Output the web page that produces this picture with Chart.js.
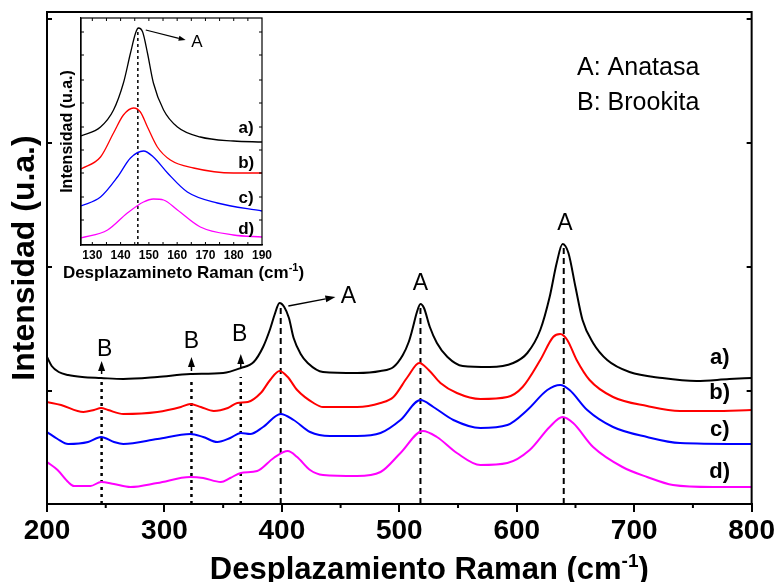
<!DOCTYPE html>
<html>
<head>
<meta charset="utf-8">
<script src="https://cdn.jsdelivr.net/npm/chart.js@4.4.0/dist/chart.umd.min.js"></script>
<style>
  body { margin: 0; background: #fff; }
  #wrap { position: relative; width: 777px; height: 582px; }
  #mainChart { position: absolute; left: 0; top: 0; }
  #insetChart { position: absolute; left: 56px; top: 14px; }
</style>
</head>
<body>
<div id="wrap">
  <canvas id="mainChart" width="777" height="582"></canvas>
  <canvas id="insetChart" width="250" height="270"></canvas>
</div>
<script>
// main spectra: Raman shift (cm-1) and intensity (a.u., stacked offsets)
var shiftA = [200,204,210,218,230,246,265,294,322,350,365,376,384,390,394,398,402,406,410,416,422,435,464,484,495,503,508,511,515,518,521,526,532,541,554,577,597,609,620,628,634,639,644,650,656,665,677,696,724,753,781,800];
var intA   = [147,138,132,129,127,126,125,127,130,131,136,142,157,175,190,201,197,186,166,150,141,132,131,133,137,149,162,174,192,200,196,177,161,147,138,137,141,151,174,207,241,260,251,217,184,161,144,132,126,123,125,126];

var shiftB = [200,212,231,240,246,252,265,294,314,322,331,342,354,362,371,382,390,398,405,413,427,435,464,484,495,507,517,525,535,549,569,592,605,620,631,637,643,651,662,682,711,739,767,800];
var intB   = [102,99,92,94,96,94,90,92,97,100,97,93,96,101,102,111,124,133,127,114,101,97,97,101,107,127,141,134,121,111,105,107,117,144,167,170,164,144,124,107,98,93,93,94];

var shiftC = [200,209,218,235,246,257,265,294,322,333,345,356,365,373,384,399,410,424,441,464,484,501,518,529,546,569,592,609,626,637,645,660,682,711,739,800];
var intC   = [72,65,60,62,67,62,60,65,70,67,62,66,71,70,77,90,84,72,68,68,71,84,104,97,84,76,79,94,114,119,114,94,77,67,61,60];

var shiftD = [200,209,218,223,237,246,257,271,294,322,333,348,356,365,379,393,405,413,424,435,464,484,501,520,532,549,569,592,611,628,639,648,665,690,711,733,767,800];
var intD   = [42,34,22,18,18,22,20,17,21,27,26,22,26,31,33,46,53,47,34,29,28,32,51,73,67,51,39,41,54,77,87,81,57,37,27,19,17,17];

// marker lines
var anatasePeaks = [399, 518, 640];
var anataseTops  = [201, 200, 260];
var brookitePeaks = [246.5, 323, 365];
var brookiteTops  = [124, 124, 127];

// inset spectra (zoom on the 146 cm-1 band)
var insetShiftA = [126,132.9,137.5,141,143.5,145.3,146.3,147.8,149.5,151.6,155.2,160.1,168.2,179.9,190];
var insetIntA   = [109,118,135,162,192,212,217,213,192,162,135,118,108,104,103];
var insetShiftB = [126,132.9,137.5,141,144.6,147,149.5,153,157.6,165.8,179.9,190];
var insetIntB   = [76,88,112,130,137,133,118,98,85,77,72,72];
var insetShiftC = [126,132.9,138.9,143.5,148.1,151.6,156.6,163.6,174.2,190];
var insetIntC   = [39,48,68,87,94,88,72,53,42,34];
var insetShiftD = [126,135.4,142.4,148.1,151.6,155.2,160.1,168.2,179.9,190];
var insetIntD   = [7,15,32,43,46,45,35,18,10,8];
var insetPeak = 146.1, insetPeakTop = 217;
var insetTickLabels = [130, 140, 150, 160, 170, 180, 190];

var FONT = "'Liberation Sans', Arial, sans-serif";
Chart.defaults.font.family = FONT;
Chart.defaults.color = '#000';

function pts(xs, ys) {
    return xs.map(function (v, i) { return { x: v, y: ys[i] }; });
}

function spectrum(xs, ys, color, width) {
    return { data: pts(xs, ys), borderColor: color, borderWidth: width, cubicInterpolationMode: 'monotone', pointRadius: 0 };
}

function marker(v, top, dash, width) {
    return { data: [{ x: v, y: 0 }, { x: v, y: top }], borderColor: '#000', borderWidth: width, borderDash: dash, pointRadius: 0 };
}

// frame, extra ticks, arrows, labels and the x title with superscript
var frameNotes = {
    id: 'frameNotes',
    afterDraw: function (chart, args, o) {
        var ctx = chart.ctx, a = chart.chartArea;
        var xs = chart.scales.x, ys = chart.scales.y;
        ctx.save();
        ctx.strokeStyle = '#000';
        ctx.fillStyle = '#000';
        ctx.lineWidth = o.frameWidth;
        ctx.strokeRect(a.left, a.top, a.right - a.left, a.bottom - a.top);

        ctx.lineWidth = o.tickWidth;
        ctx.beginPath();
        (o.xTicks || []).forEach(function (v) {
            var px = xs.getPixelForValue(v);
            ctx.moveTo(px, a.bottom); ctx.lineTo(px, a.bottom + o.xTickLen);
            if (o.topTicks) { ctx.moveTo(px, a.top); ctx.lineTo(px, a.top - o.xTickLen); }
        });
        (o.yTicks || []).forEach(function (v) {
            var py = ys.getPixelForValue(v);
            ctx.moveTo(a.left, py); ctx.lineTo(a.left + o.yTickLen, py);
            ctx.moveTo(a.right, py); ctx.lineTo(a.right - o.yTickLen, py);
        });
        ctx.stroke();

        ctx.lineWidth = o.arrowWidth;
        (o.arrows || []).forEach(function (ar) {
            var x1 = xs.getPixelForValue(ar.x1), y1 = ys.getPixelForValue(ar.y1);
            var x2 = xs.getPixelForValue(ar.x2), y2 = ys.getPixelForValue(ar.y2);
            var ang = Math.atan2(y2 - y1, x2 - x1);
            var bx = x2 - o.headLen * Math.cos(ang), by = y2 - o.headLen * Math.sin(ang);
            ctx.beginPath();
            ctx.moveTo(x1, y1); ctx.lineTo(bx, by);
            ctx.stroke();
            ctx.beginPath();
            ctx.moveTo(x2, y2);
            ctx.lineTo(bx + o.headW * Math.sin(ang), by - o.headW * Math.cos(ang));
            ctx.lineTo(bx - o.headW * Math.sin(ang), by + o.headW * Math.cos(ang));
            ctx.closePath();
            ctx.fill();
        });

        ctx.textBaseline = 'middle';
        (o.texts || []).forEach(function (t) {
            ctx.font = t.font;
            ctx.textAlign = t.align || 'center';
            ctx.fillText(t.text, xs.getPixelForValue(t.x), ys.getPixelForValue(t.y));
        });

        var tt = o.xTitle;
        if (tt) {
            ctx.textAlign = 'left';
            ctx.textBaseline = 'alphabetic';
            ctx.font = tt.font;
            var w1 = ctx.measureText(tt.text).width, w3 = ctx.measureText(tt.tail).width;
            ctx.font = tt.supFont;
            var w2 = ctx.measureText(tt.sup).width;
            var x0 = (a.left + a.right) / 2 + tt.dx - (w1 + w2 + w3) / 2;
            ctx.font = tt.font;
            ctx.fillText(tt.text, x0, tt.y);
            ctx.fillText(tt.tail, x0 + w1 + w2, tt.y);
            ctx.font = tt.supFont;
            ctx.fillText(tt.sup, x0 + w1, tt.y - tt.rise);
        }
        ctx.restore();
    }
};

var mainSets = [
    spectrum(shiftA, intA, '#000000', 2),
    spectrum(shiftB, intB, '#ff0000', 2),
    spectrum(shiftC, intC, '#0000ff', 2),
    spectrum(shiftD, intD, '#ff00ff', 2)
];
anatasePeaks.forEach(function (v, i) { mainSets.push(marker(v, anataseTops[i], [6, 4], 2)); });
brookitePeaks.forEach(function (v, i) { mainSets.push(marker(v, brookiteTops[i], [3, 4], 2.5)); });

new Chart(document.getElementById('mainChart'), {
    type: 'line',
    data: { datasets: mainSets },
    options: {
        responsive: false,
        animation: false,
        layout: { padding: { top: 12, right: 25 } },
        plugins: {
            legend: { display: false },
            tooltip: { enabled: false },
            frameNotes: {
                frameWidth: 2,
                tickWidth: 2,
                xTicks: [250, 350, 450, 550, 650, 750],
                xTickLen: 4,
                yTicks: [113, 237, 361, 485],
                yTickLen: 5,
                arrowWidth: 1.5,
                headLen: 10,
                headW: 3.5,
                arrows: [
                    { x1: 405.5, y1: 198, x2: 445.6, y2: 207 },
                    { x1: 246.5, y1: 130, x2: 246.5, y2: 143 },
                    { x1: 323, y1: 133, x2: 323, y2: 147 },
                    { x1: 365, y1: 136, x2: 365, y2: 150 }
                ],
                texts: [
                    { text: 'A', x: 456.6, y: 207, font: '23px ' + FONT },
                    { text: 'A', x: 518, y: 220, font: '23px ' + FONT },
                    { text: 'A', x: 641, y: 280, font: '23px ' + FONT },
                    { text: 'B', x: 249, y: 154, font: '23px ' + FONT },
                    { text: 'B', x: 323, y: 162, font: '23px ' + FONT },
                    { text: 'B', x: 364, y: 169, font: '23px ' + FONT },
                    { text: 'A: Anatasa', x: 651.3, y: 436, align: 'left', font: '25px ' + FONT },
                    { text: 'B: Brookita', x: 651.3, y: 401, align: 'left', font: '25px ' + FONT },
                    { text: 'a)', x: 772.8, y: 146, font: 'bold 22px ' + FONT },
                    { text: 'b)', x: 772.8, y: 111, font: 'bold 22px ' + FONT },
                    { text: 'c)', x: 772.8, y: 74, font: 'bold 22px ' + FONT },
                    { text: 'd)', x: 772.8, y: 32, font: 'bold 22px ' + FONT }
                ],
                xTitle: { text: 'Desplazamiento Raman (cm', sup: '-1', tail: ')', font: 'bold 31px ' + FONT, supFont: 'bold 19px ' + FONT, dx: 30, y: 579, rise: 12 }
            }
        },
        scales: {
            x: {
                type: 'linear', min: 200, max: 800,
                ticks: { stepSize: 100, color: '#000', font: { size: 28, weight: 'bold' }, padding: 2, maxRotation: 0 },
                grid: { drawOnChartArea: false, tickLength: 8, color: '#000', lineWidth: 2 },
                border: { color: '#000', width: 2 },
                afterFit: function (s) { s.height = 78; }
            },
            y: {
                min: 0, max: 492,
                ticks: { display: false },
                grid: { display: false },
                border: { color: '#000', width: 2 },
                title: { display: true, text: 'Intensidad (u.a.)', color: '#000', font: { size: 32, weight: 'bold' }, padding: { top: 6, bottom: 0 } },
                afterFit: function (s) { s.width = 47; }
            }
        }
    },
    plugins: [frameNotes]
});

new Chart(document.getElementById('insetChart'), {
    type: 'line',
    data: {
        datasets: [
            spectrum(insetShiftA, insetIntA, '#000000', 1.3),
            spectrum(insetShiftB, insetIntB, '#ff0000', 1.3),
            spectrum(insetShiftC, insetIntC, '#0000ff', 1.3),
            spectrum(insetShiftD, insetIntD, '#ff00ff', 1.3),
            marker(insetPeak, insetPeakTop, [3, 3], 1.5)
        ]
    },
    options: {
        responsive: false,
        animation: false,
        layout: { padding: { top: 4, right: 44 } },
        plugins: {
            legend: { display: false },
            tooltip: { enabled: false },
            frameNotes: {
                frameWidth: 1.2,
                tickWidth: 1,
                xTicks: [130, 135, 140, 145, 150, 155, 160, 165, 170, 175, 180, 185],
                xTickLen: -3,
                topTicks: true,
                yTicks: [25, 48, 72, 95, 118, 142, 165, 190, 213],
                yTickLen: 3,
                arrowWidth: 1.2,
                headLen: 7,
                headW: 2.5,
                arrows: [{ x1: 148.9, y1: 215, x2: 163, y2: 205 }],
                texts: [
                    { text: 'A', x: 167, y: 203, font: '17px ' + FONT },
                    { text: 'a)', x: 184.4, y: 117, font: 'bold 17px ' + FONT },
                    { text: 'b)', x: 184.4, y: 82, font: 'bold 17px ' + FONT },
                    { text: 'c)', x: 184.4, y: 47, font: 'bold 17px ' + FONT },
                    { text: 'd)', x: 184.4, y: 16, font: 'bold 17px ' + FONT }
                ],
                xTitle: { text: 'Desplazamineto Raman (cm', sup: '-1', tail: ')', font: 'bold 17px ' + FONT, supFont: 'bold 11px ' + FONT, dx: 12, y: 264, rise: 7 }
            }
        },
        scales: {
            x: {
                type: 'linear', min: 126, max: 190,
                afterBuildTicks: function (s) {
                    s.ticks = insetTickLabels.map(function (v) { return { value: v }; });
                },
                ticks: { color: '#000', font: { size: 12, weight: 'bold' }, padding: 3, maxRotation: 0 },
                grid: { drawOnChartArea: false, drawTicks: false },
                border: { color: '#000', width: 1.2 },
                afterFit: function (s) { s.height = 39; }
            },
            y: {
                min: 0, max: 227,
                ticks: { display: false },
                grid: { display: false },
                border: { color: '#000', width: 1.2 },
                title: { display: true, text: 'Intensidad (u.a.)', color: '#000', font: { size: 16, weight: 'bold' }, padding: { top: 2, bottom: 0 } },
                afterFit: function (s) { s.width = 25; }
            }
        }
    },
    plugins: [frameNotes]
});
</script>
</body>
</html>
